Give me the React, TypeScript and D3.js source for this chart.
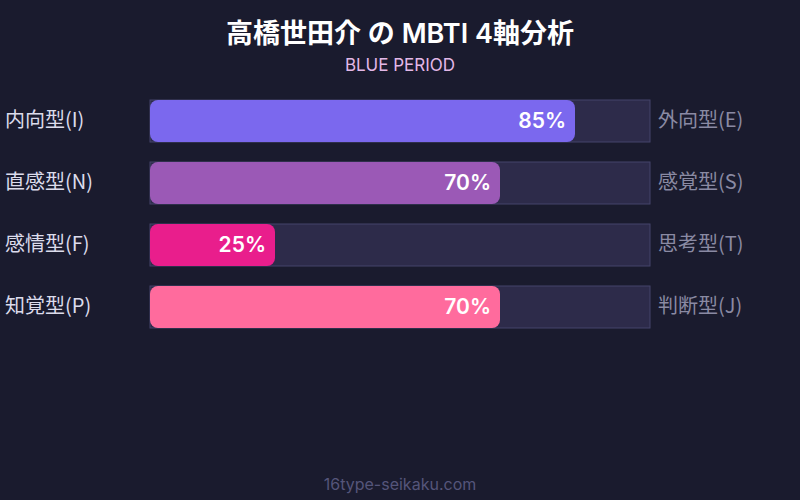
import React from "react";
import * as d3 from "d3";

const leftLabels = ["内向型(I)", "直感型(N)", "感情型(F)", "知覚型(P)"];
const rightLabels = ["外向型(E)", "感覚型(S)", "思考型(T)", "判断型(J)"];
const values = [85, 70, 25, 70];
const colors = ["#7b68ee", "#9b59b6", "#e91e8c", "#ff6b9d"];
const title = "高橋世田介 の MBTI 4軸分析";
const subtitle = "BLUE PERIOD";
const footer = "16type-seikaku.com";

const W = 800;
const H = 500;
const font = "Inter, 'Noto Sans CJK JP', sans-serif";
const cjk = "'Noto Sans CJK JP', sans-serif";

export default function App() {
  const x = d3.scaleLinear().domain([0, 100]).range([150, 650]);
  const y = d3.scaleBand().domain(leftLabels).range([100, 328]).paddingInner(20 / 62).paddingOuter(0);
  const bh = y.bandwidth();
  return (
    <svg width={W} height={H} style={{ position: "absolute", left: 0, top: 0, display: "block" }}>
      <rect x={0} y={0} width={W} height={H} fill="#1a1b2e" />
      <text x={400} y={43} textAnchor="middle" fill="#ffffff" fontSize={27} fontWeight={600} fontFamily={font}>{title}</text>
      <text x={400} y={71} textAnchor="middle" fill="#e3b8e8" fontSize={17} fontFamily={font}>{subtitle}</text>
      {leftLabels.map((l, i) => {
        const y0 = y(l)!;
        return (
          <g key={l}>
            <rect x={x(0)} y={y0} width={x(100) - x(0)} height={bh} fill="#2d2b4a" stroke="#45446a" strokeWidth={1} />
            <rect x={x(0)} y={y0} width={x(values[i]) - x(0)} height={bh} rx={8} ry={8} fill={colors[i]} />
            <text x={x(values[i]) - 9} y={y0 + bh / 2} dy="0.35em" textAnchor="end" fill="#ffffff" fontSize={21} fontWeight={600} fontFamily={font}>{values[i]}%</text>
            <text x={5} y={y0 + bh / 2} dy="0.3em" fill="#dcdcec" fontSize={20} fontFamily={cjk}>{l}</text>
            <text x={658} y={y0 + bh / 2} dy="0.3em" fill="#8a8aa3" fontSize={20} fontFamily={cjk}>{rightLabels[i]}</text>
          </g>
        );
      })}
      <text x={400} y={490} textAnchor="middle" fill="#55557a" fontSize={16} fontFamily={font}>{footer}</text>
    </svg>
  );
}
